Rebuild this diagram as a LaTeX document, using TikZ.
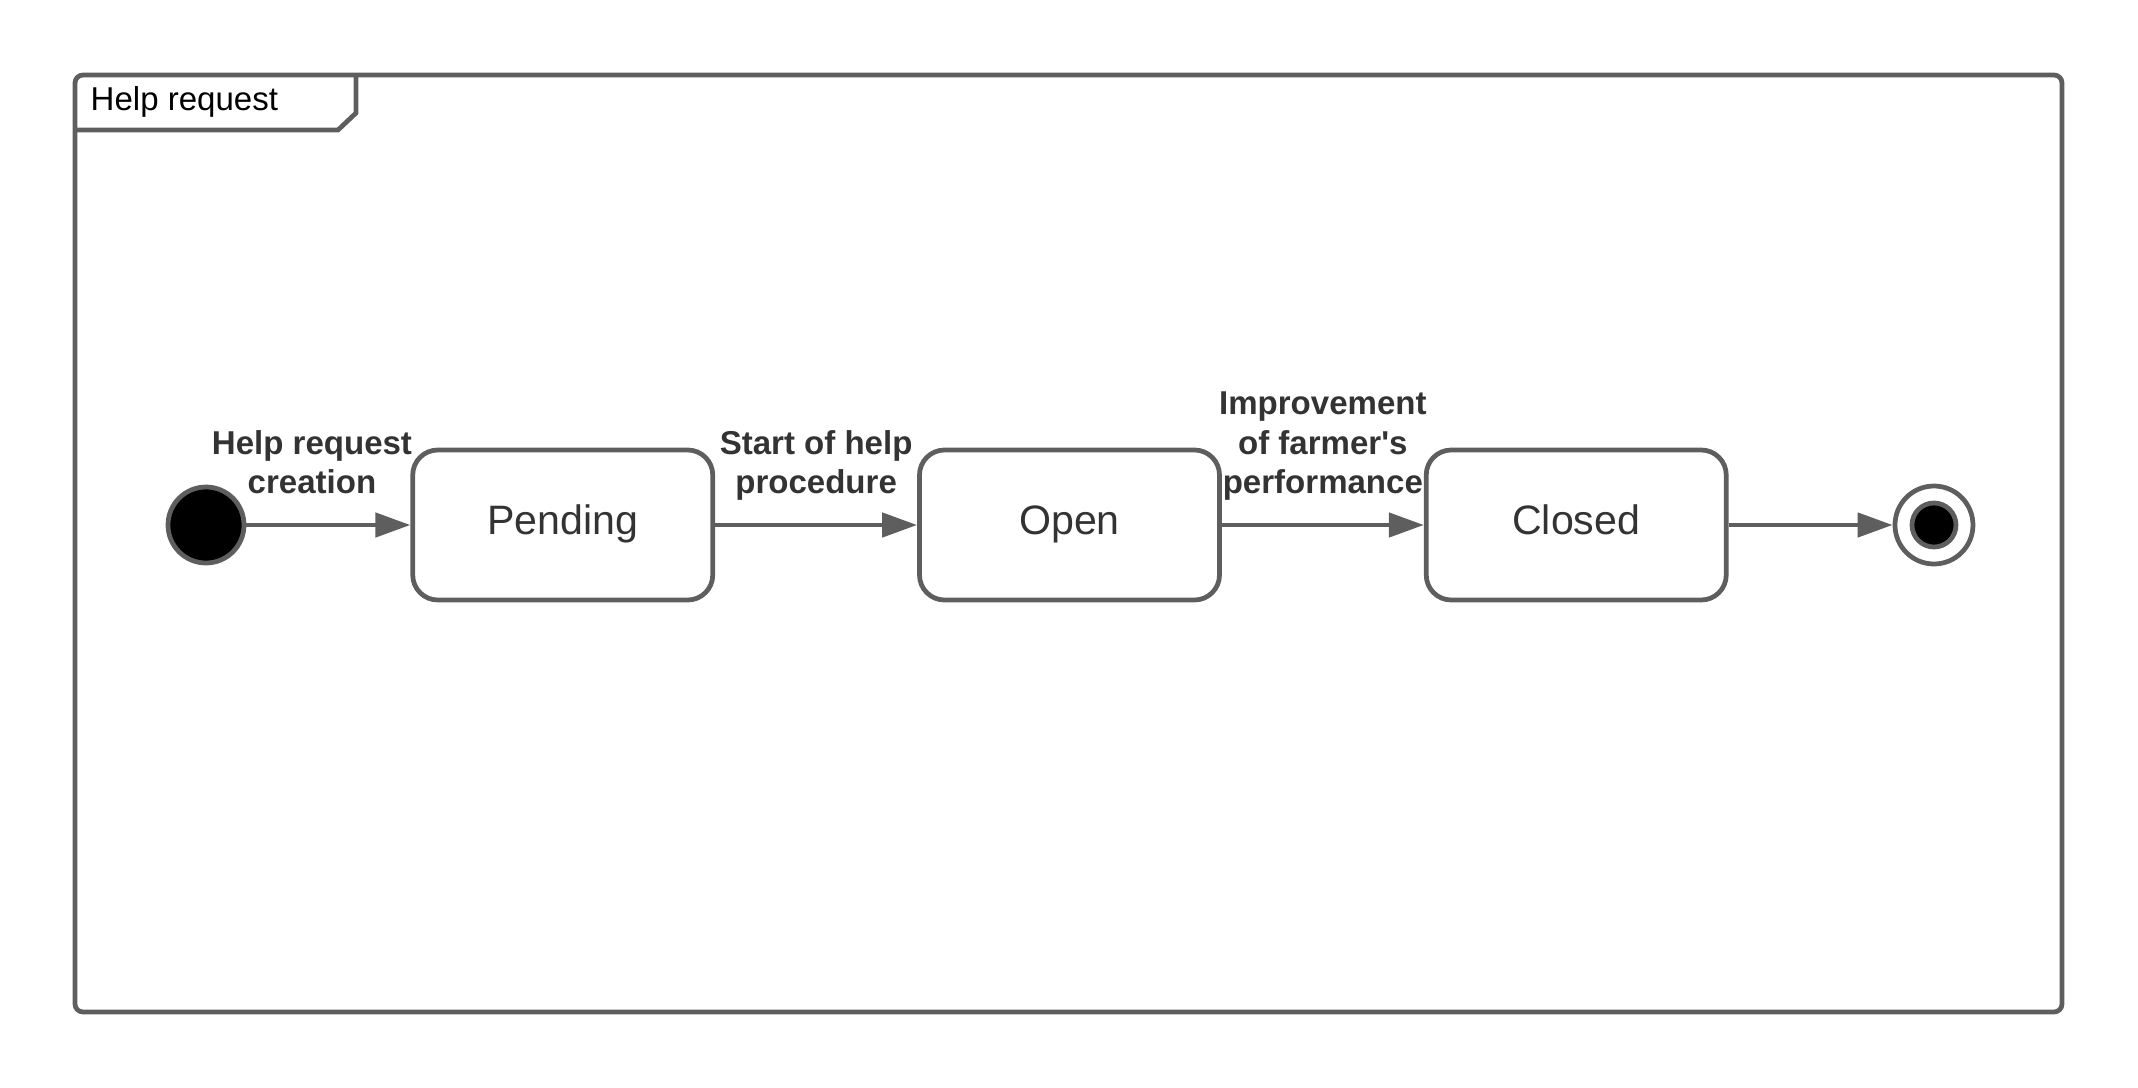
\documentclass[tikz,border=0pt]{standalone}
\usepackage{fontspec}
\setmainfont{Liberation Sans}
\usetikzlibrary{positioning, arrows.meta}
\definecolor{linegray}{HTML}{5E5E5E}
\definecolor{textgray}{HTML}{333333}

\begin{document}
\begin{tikzpicture}[
  node distance=2.02cm,
  state/.style={draw=linegray, line width=1.35pt, rounded corners=0.25cm,
                minimum width=3cm, minimum height=1.5cm,
                text height=0.75em, text depth=0.21em,
                font=\fontsize{11.7}{14}\selectfont, text=textgray},
  startdot/.style={draw=linegray, line width=1.35pt, circle, fill=black,
                   minimum size=0.76cm, inner sep=0pt},
  enddot/.style={draw=linegray, line width=1.35pt, circle, fill=white,
                 minimum size=0.78cm, inner sep=0pt},
  trlabel/.style={font=\fontsize{9.4}{11.2}\selectfont\bfseries,
                  text=textgray, align=center, inner sep=0pt, text depth=0pt},
  arrow/.style={-{Triangle[length=0.35cm, width=0.24cm]}, line width=1.3pt,
                draw=linegray},
]
  \useasboundingbox (0,0) rectangle (21.38,-10.88);
  % Frame
  \draw[linegray, line width=1.35pt, rounded corners=0.08cm]
    (0.75,-0.75) rectangle (20.62,-10.12);
  \draw[linegray, line width=1.35pt]
    (3.56,-0.75) -- (3.56,-1.13) -- (3.38,-1.30) -- (0.75,-1.30);
  \node[anchor=west, inner sep=0pt, font=\fontsize{9.4}{11.2}\selectfont]
    (frametitle) at (0.90,-1.02) {Help request};

  % States
  \node[startdot] (start) at (2.06,-5.25) {};
  \node[state, right=1.64cm of start] (pending) {Pending};
  \node[state, right=of pending] (open) {Open};
  \node[state, right=of open] (closed) {Closed};
  \node[enddot, right=1.64cm of closed] (final) {};
  \node[startdot, minimum size=0.44cm] (finaldot) at (final) {};

  % Transitions
  \draw[arrow] (start) -- node[trlabel, above=0.29cm, pos=0.4]
    {Help request\\creation} (pending);
  \draw[arrow] (pending) -- node[trlabel, above=0.29cm]
    {Start of help\\procedure} (open);
  \draw[arrow] (open) -- node[trlabel, above=0.29cm]
    {Improvement\\of farmer\textquotesingle s\\performance} (closed);
  \draw[arrow] (closed) -- (final);
\end{tikzpicture}
\end{document}
